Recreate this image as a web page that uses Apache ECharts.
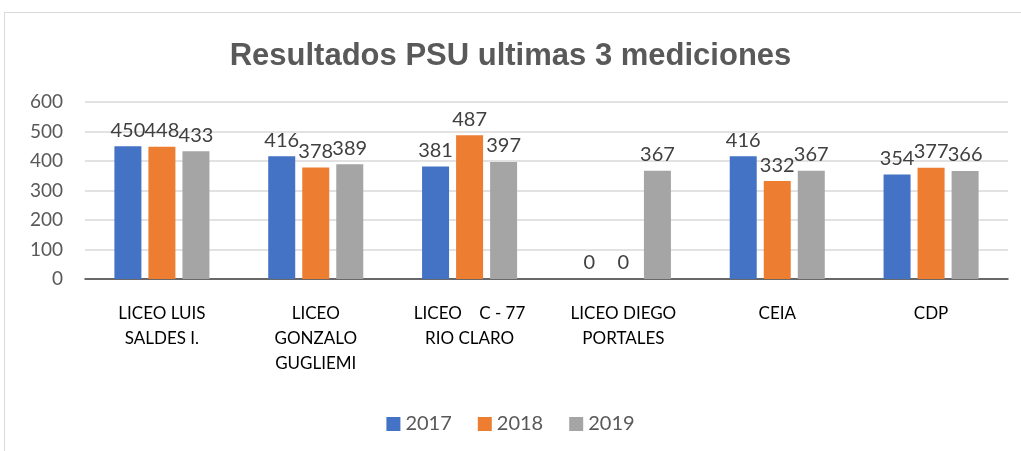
<!DOCTYPE html>
<html>
<head>
<meta charset="utf-8">
<script src="https://cdn.jsdelivr.net/npm/echarts@6/dist/echarts.min.js"></script>
<style>
  html, body { margin: 0; padding: 0; background: #fff; }
  #frame {
    position: absolute; left: 4px; top: 12px;
    width: 1030px; height: 450px;
    border: 1px solid #d9d9d9;
  }
  #psu-chart { position: absolute; left: 0; top: 0; width: 1021px; height: 451px; }
</style>
</head>
<body>
<div id="frame"></div>
<div id="psu-chart"></div>
<script>
// colegios
const categories = [
  'LICEO LUIS\nSALDES I.',
  'LICEO\nGONZALO\nGUGLIEMI',
  'LICEO    C - 77\nRIO CLARO',
  'LICEO DIEGO\nPORTALES',
  'CEIA',
  'CDP'
];
const years = ['2017', '2018', '2019'];
const values2017 = [450, 416, 381, 0, 416, 354];
const values2018 = [448, 378, 487, 0, 332, 377];
const values2019 = [433, 389, 397, 367, 367, 366];
const yTicks = [0, 100, 200, 300, 400, 500, 600];

const colors = ['#4472C4', '#ED7D31', '#A5A5A5'];
const font = 'Lato, "Open Sans", sans-serif';

const chartObj = echarts.init(document.getElementById('psu-chart'));

function makeSeries(name, data, color) {
  return {
    name: name,
    type: 'bar',
    data: data,
    barWidth: 27,
    barGap: '26%',
    itemStyle: { color: color },
    label: {
      show: true,
      position: 'top',
      distance: 6,
      color: '#404040',
      fontSize: 20,
      fontFamily: font
    }
  };
}

const option = {
  animation: false,
  title: {
    text: 'Resultados PSU ultimas 3 mediciones',
    left: 'center',
    top: 36,
    textStyle: {
      color: '#595959',
      fontSize: 31,
      fontWeight: 'bold',
      fontFamily: '"Liberation Sans", Arial, sans-serif'
    }
  },
  legend: {
    data: years,
    bottom: 12,
    left: 'center',
    itemWidth: 14,
    itemHeight: 14,
    itemGap: 26,
    icon: 'rect',
    textStyle: { color: '#595959', fontSize: 20, fontFamily: font }
  },
  grid: {
    left: 85,
    right: 13,
    top: 102,
    bottom: 172
  },
  xAxis: {
    type: 'category',
    data: categories,
    axisTick: { show: false },
    axisLine: { lineStyle: { color: '#404040', width: 1.5 } },
    axisLabel: {
      color: '#000',
      fontSize: 17,
      fontFamily: font,
      lineHeight: 25,
      margin: 22,
      interval: 0
    }
  },
  yAxis: {
    type: 'value',
    min: yTicks[0],
    max: yTicks[yTicks.length - 1],
    interval: 100,
    axisLine: { show: false },
    axisTick: { show: false },
    splitLine: { lineStyle: { color: '#d9d9d9', width: 1.5 } },
    axisLabel: {
      color: '#595959',
      fontSize: 19,
      fontFamily: font,
      margin: 22
    }
  },
  series: [
    makeSeries(years[0], values2017, colors[0]),
    makeSeries(years[1], values2018, colors[1]),
    makeSeries(years[2], values2019, colors[2])
  ]
};

chartObj.setOption(option);
</script>
</body>
</html>
